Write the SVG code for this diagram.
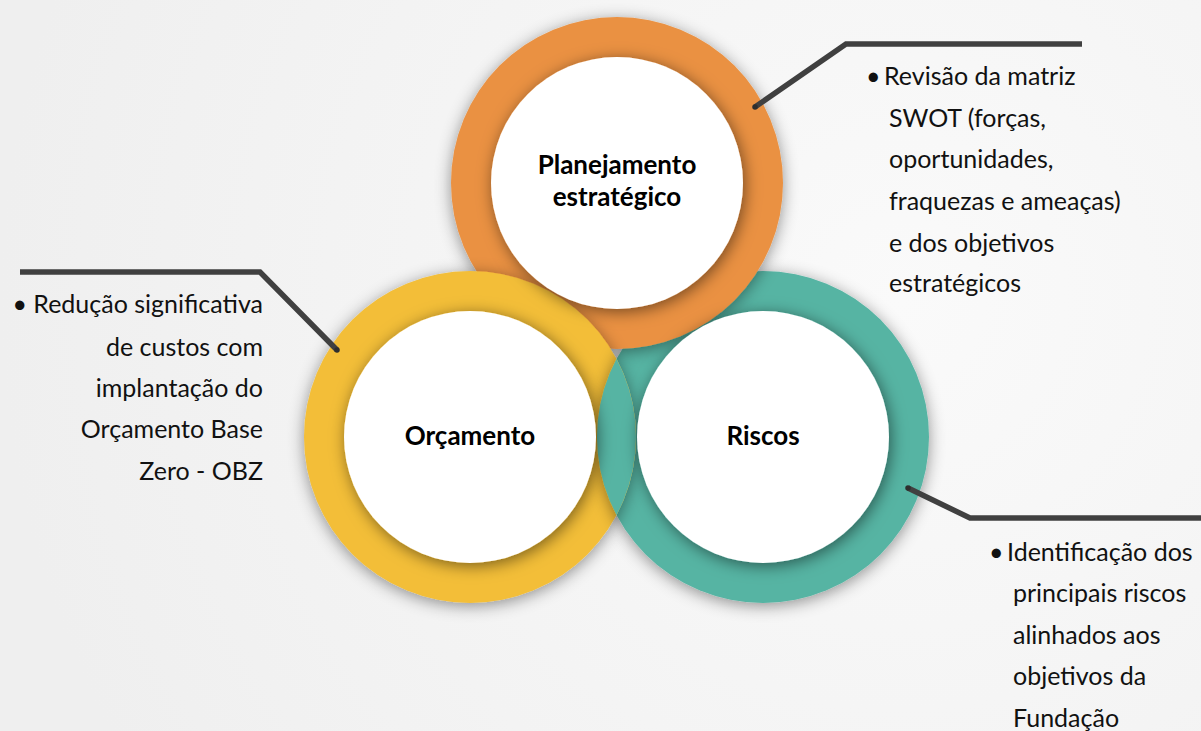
<svg xmlns="http://www.w3.org/2000/svg" width="1201" height="731" viewBox="0 0 1201 731">
<defs>
<radialGradient id="bg" cx="900" cy="300" r="900" gradientUnits="userSpaceOnUse">
<stop offset="0" stop-color="#FAFAFA"/>
<stop offset="1" stop-color="#EFEFEF"/>
</radialGradient>
<filter id="ringShadow" x="-20%" y="-20%" width="140%" height="140%">
<feDropShadow dx="0" dy="3" stdDeviation="8" flood-color="#000" flood-opacity="0.42"/>
</filter>
<filter id="whiteShadow" x="-20%" y="-20%" width="140%" height="140%">
<feDropShadow dx="2" dy="3" stdDeviation="8" flood-color="#000" flood-opacity="0.5"/>
</filter>
<clipPath id="clipYellow"><circle cx="470" cy="437" r="166"/></clipPath>
<style>
.ring-o{fill:#EA9142}
.ring-y{fill:#F3BE38}
.ring-t{fill:#56B4A3}
.inner{fill:#FFFFFF}
.label{font-family:Lato,"Liberation Sans",sans-serif;font-weight:bold;font-size:26px;fill:#000;text-anchor:middle}
.desc{font-family:Lato,"Liberation Sans",sans-serif;font-size:25px;fill:#111}
.conn{fill:none;stroke:#404040;stroke-width:5.5;stroke-linejoin:miter;stroke-linecap:butt}
.dot{fill:#2E2E2E}
</style>
</defs>
<rect x="0" y="0" width="1201" height="731" fill="url(#bg)"/>

<g id="rings">
<circle class="ring-t" cx="763" cy="437" r="166" filter="url(#ringShadow)"/>
<circle class="ring-o" cx="617" cy="183" r="166" filter="url(#ringShadow)"/>
<circle class="ring-y" cx="470" cy="437" r="166" filter="url(#ringShadow)"/>
<g clip-path="url(#clipYellow)">
<circle class="ring-t" cx="763" cy="437" r="166" filter="url(#ringShadow)"/>
</g>
</g>

<g id="node-planejamento">
<circle class="inner" cx="617" cy="183" r="126" filter="url(#whiteShadow)"/>
<text class="label" x="617" y="174">Planejamento</text>
<text class="label" x="617" y="206">estratégico</text>
</g>
<g id="node-orcamento">
<circle class="inner" cx="470" cy="437" r="126" filter="url(#whiteShadow)"/>
<text class="label" x="470" y="445">Orçamento</text>
</g>
<g id="node-riscos">
<circle class="inner" cx="763" cy="437" r="126" filter="url(#whiteShadow)"/>
<text class="label" x="763" y="445">Riscos</text>
</g>

<g id="connectors">
<path class="conn" d="M755,107 L846,44 L1082,44"/>
<circle class="dot" cx="755" cy="107" r="2.75"/>
<path class="conn" d="M20,272 L260,272 L337,350"/>
<circle class="dot" cx="337" cy="350" r="2.75"/>
<path class="conn" d="M908,488 L970,518 L1201,518"/>
<circle class="dot" cx="908" cy="488" r="2.75"/>
</g>

<g id="text-planejamento" class="desc">
<text x="866" y="85">•</text>
<text x="884" y="85">Revisão da matriz</text>
<text x="889" y="127">SWOT (forças,</text>
<text x="889" y="168">oportunidades,</text>
<text x="889" y="210">fraquezas e ameaças)</text>
<text x="889" y="252">e dos objetivos</text>
<text x="889" y="292">estratégicos</text>
</g>

<g id="text-orcamento" class="desc" text-anchor="end">
<text x="263" y="313">• Redução significativa</text>
<text x="263" y="356">de custos com</text>
<text x="263" y="397">implantação do</text>
<text x="263" y="438">Orçamento Base</text>
<text x="263" y="480">Zero - OBZ</text>
</g>

<g id="text-riscos" class="desc">
<text x="989" y="561">•</text>
<text x="1007" y="561">Identificação dos</text>
<text x="1013" y="602">principais riscos</text>
<text x="1013" y="644">alinhados aos</text>
<text x="1013" y="685">objetivos da</text>
<text x="1013" y="727">Fundação</text>
</g>
</svg>
